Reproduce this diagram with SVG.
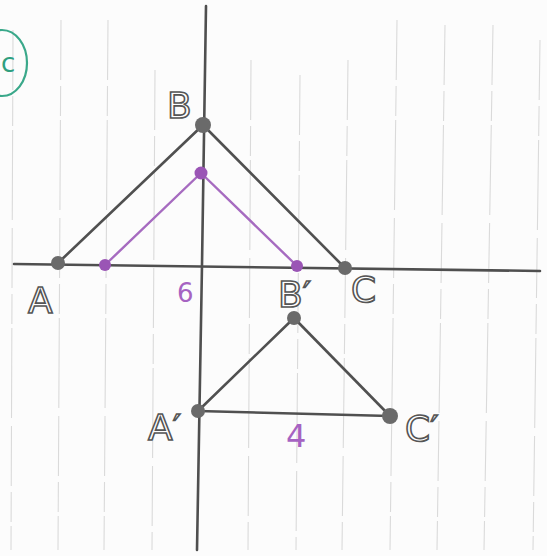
<svg xmlns="http://www.w3.org/2000/svg" width="547" height="556" viewBox="0 0 547 556">
<style>
.grid{stroke:#dadada;stroke-width:1.1;fill:none;stroke-dasharray:60 6 30 4 90 8}
.axis{stroke:#4f4f4f;stroke-width:2.6;fill:none;stroke-linecap:round}
.edge{stroke:#505050;stroke-width:2.6;fill:none;stroke-linecap:round}
.pedge{stroke:#a66bc0;stroke-width:2.4;fill:none;stroke-linecap:round}
.pt{fill:#6a6a6a}
.ppt{fill:#9a55b5}
.lbl{font-family:"DejaVu Sans","Liberation Sans",sans-serif;font-size:36px;fill:#fff;stroke:#555;stroke-width:1.6}
.plbl{font-family:"DejaVu Sans","Liberation Sans",sans-serif;fill:#a663c2}
.glbl{font-family:"DejaVu Sans","Liberation Sans",sans-serif;font-size:26px;fill:#2f9f7f}
</style>
<rect width="547" height="556" fill="#fcfcfc"/>
<g id="grid">
<line class="grid" x1="13" y1="30" x2="11" y2="550"/>
<line class="grid" x1="61" y1="20" x2="58" y2="550"/>
<line class="grid" x1="108" y1="20" x2="104" y2="550"/>
<line class="grid" x1="155" y1="70" x2="152" y2="550"/>
<line class="grid" x1="251" y1="60" x2="248" y2="550"/>
<line class="grid" x1="300" y1="75" x2="296" y2="550"/>
<line class="grid" x1="348" y1="60" x2="342" y2="550"/>
<line class="grid" x1="397" y1="20" x2="390" y2="550"/>
<line class="grid" x1="445" y1="25" x2="437" y2="550"/>
<line class="grid" x1="493" y1="25" x2="484" y2="550"/>
<line class="grid" x1="540" y1="40" x2="533" y2="550"/>
</g>
<g id="axes">
<path class="axis" d="M206 6 Q204 120 202 265 T197 550"/>
<path class="axis" d="M14 264 L540 271" stroke="#5a5a5a"/>
</g>
<g id="connectors">
<line class="edge" x1="58" y1="263" x2="203" y2="125"/>
<line class="edge" x1="203" y1="125" x2="345" y2="268"/>
<line class="pedge" x1="105" y1="265" x2="201" y2="173"/>
<line class="pedge" x1="201" y1="173" x2="297" y2="266"/>
<line class="edge" x1="198" y1="411" x2="294" y2="318"/>
<line class="edge" x1="294" y1="318" x2="390" y2="416"/>
<line class="edge" x1="198" y1="411" x2="390" y2="416"/>
</g>
<g id="label-c">
<ellipse cx="2" cy="63" rx="25" ry="33" fill="none" stroke="#3aa88a" stroke-width="2.2"/>
<text class="glbl" x="1" y="72">c</text>
</g>
<g id="node-A"><circle class="pt" cx="58" cy="263" r="7"/><text class="lbl" x="28" y="313">A</text></g>
<g id="node-B"><circle class="pt" cx="203" cy="125" r="8"/><text class="lbl" x="167" y="118">B</text></g>
<g id="node-C"><circle class="pt" cx="345" cy="268" r="7"/><text class="lbl" x="351" y="302">C</text></g>
<g id="node-Bpp"><circle class="ppt" cx="201" cy="173" r="6.5"/></g>
<g id="node-Pleft"><circle class="ppt" cx="105" cy="265" r="6"/></g>
<g id="node-Pright"><circle class="ppt" cx="297" cy="266" r="6"/></g>
<g id="label-6"><text class="plbl" x="177" y="302" font-size="26">6</text></g>
<g id="node-Bp"><circle class="pt" cx="294" cy="318" r="7"/><text class="lbl" x="278" y="307">B′</text></g>
<g id="node-Ap"><circle class="pt" cx="198" cy="411" r="7"/><text class="lbl" x="148" y="440">A′</text></g>
<g id="node-Cp"><circle class="pt" cx="390" cy="416" r="8"/><text class="lbl" x="405" y="441">C′</text></g>
<g id="label-4"><text class="plbl" x="286" y="447" font-size="32">4</text></g>
</svg>
